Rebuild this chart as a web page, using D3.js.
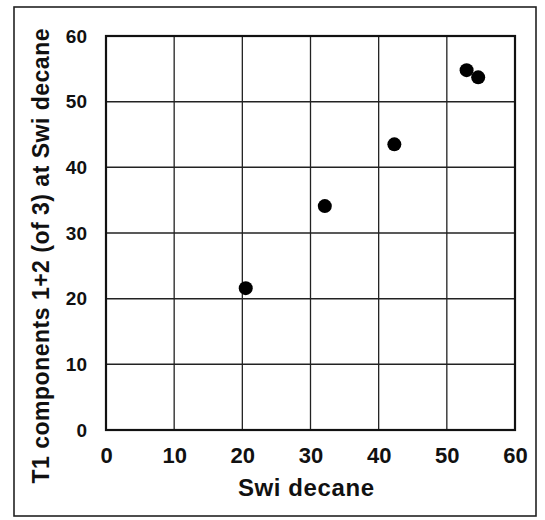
<!DOCTYPE html>
<html lang="en">
<head>
	<meta charset="UTF-8">
	<title>T1 components vs Swi decane</title>
	<script src="https://cdn.jsdelivr.net/npm/d3@7"></script>
	<style>
		body { margin: 0; background: #fff; }
		text { font-family: 'Liberation Sans', Arial, sans-serif; font-weight: bold; fill: #111; }
	</style>
</head>
<body>
	<svg id="viz"></svg>
	<script>
		// Data ---
		const swiDecane = [20.5, 32.1, 42.3, 52.9, 54.6];
		const t1Components = [21.6, 34.1, 43.5, 54.8, 53.7];
		const xTicks = [0, 10, 20, 30, 40, 50, 60];
		const yTicks = [0, 10, 20, 30, 40, 50, 60];

		// Dimensions ---
		const svgWidth = 545, svgHeight = 520;
		const plot = { left: 106, right: 515, top: 36, bottom: 430 };

		const svg = d3.select('#viz')
			.attr('width', svgWidth)
			.attr('height', svgHeight);

		// Outer frame
		svg.append('rect')
			.attr('x', 14).attr('y', 7)
			.attr('width', 522).attr('height', 509)
			.attr('fill', 'none')
			.attr('stroke', '#222')
			.attr('stroke-width', 1.6);

		// Scales ---
		const x = d3.scaleLinear().domain([0, 60]).range([plot.left, plot.right]);
		const y = d3.scaleLinear().domain([0, 60]).range([plot.bottom, plot.top]);

		// Grid ---
		svg.append('g')
			.selectAll('line')
			.data(xTicks)
			.join('line')
			.attr('x1', d => x(d)).attr('x2', d => x(d))
			.attr('y1', plot.top).attr('y2', plot.bottom)
			.attr('stroke', '#222').attr('stroke-width', 1.3);
		svg.append('g')
			.selectAll('line')
			.data(yTicks)
			.join('line')
			.attr('x1', plot.left).attr('x2', plot.right)
			.attr('y1', d => y(d)).attr('y2', d => y(d))
			.attr('stroke', '#222').attr('stroke-width', 1.5);

		// Plot border
		svg.append('rect')
			.attr('x', plot.left).attr('y', plot.top)
			.attr('width', plot.right - plot.left).attr('height', plot.bottom - plot.top)
			.attr('fill', 'none')
			.attr('stroke', '#111')
			.attr('stroke-width', 2.2);

		// Axes labels (via d3 axes, no lines) ---
		const xAxis = svg.append('g')
			.attr('transform', `translate(0, ${plot.bottom})`)
			.call(d3.axisBottom(x).tickValues(xTicks).tickSize(0).tickPadding(33));
		xAxis.select('.domain').remove();
		xAxis.selectAll('text')
			.attr('dy', 0)
			.style('font-size', '22px')
			.style('font-family', "'Liberation Sans', Arial, sans-serif")
			.style('font-weight', 'bold')
			.attr('fill', '#111');

		const yAxis = svg.append('g')
			.attr('transform', `translate(${plot.left}, 0)`)
			.call(d3.axisLeft(y).tickValues(yTicks).tickSize(0).tickPadding(19));
		yAxis.select('.domain').remove();
		yAxis.selectAll('text')
			.style('font-size', '19px')
			.style('font-family', "'Liberation Sans', Arial, sans-serif")
			.style('font-weight', 'bold')
			.attr('fill', '#111');

		// Titles ---
		svg.append('text')
			.attr('x', 306).attr('y', 496)
			.attr('text-anchor', 'middle')
			.attr('textLength', 136)
			.style('font-size', '24px')
			.text('Swi decane');

		svg.append('text')
			.attr('transform', 'translate(49, 256) rotate(-90)')
			.attr('text-anchor', 'middle')
			.attr('textLength', 455)
			.style('font-size', '23px')
			.text('T1 components 1+2 (of 3) at Swi decane');

		// Points ---
		const points = swiDecane.map((d, i) => ({ x: d, y: t1Components[i] }));
		svg.append('g')
			.selectAll('circle')
			.data(points)
			.join('circle')
			.attr('cx', d => x(d.x))
			.attr('cy', d => y(d.y))
			.attr('r', 7)
			.attr('fill', '#000');
	</script>
</body>
</html>
